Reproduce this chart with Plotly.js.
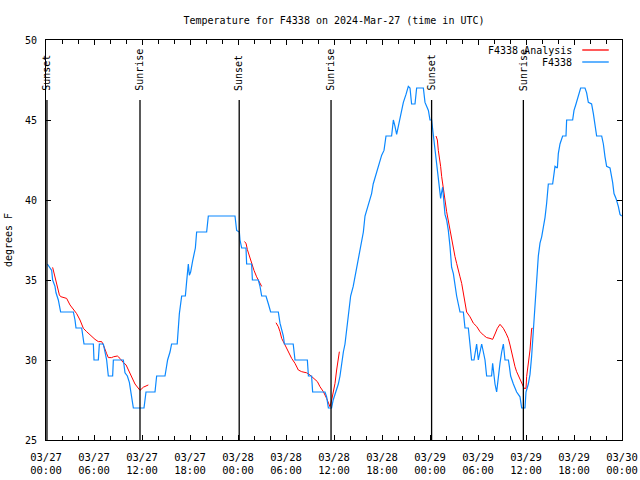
<!DOCTYPE html>
<html>
<head>
<meta charset="utf-8">
<script src="https://cdn.plot.ly/plotly-3.0.1.min.js"></script>
<style>html,body{margin:0;padding:0;background:#fff;}#chart{width:640px;height:480px;}</style>
</head>
<body>
<div id="chart"></div>
<script>
// Hours since 2024-03-27 00:00 UTC
const obsHours = [0.17,0.5,0.71,0.83,1.125,1.25,1.54,1.83,3.42,3.625,3.75,4.46,4.58,4.75,5.92,6.0,6.54,6.67,7.17,7.375,7.58,7.79,8.33,8.42,9.67,9.875,10.17,10.42,10.58,10.79,10.92,12.25,12.375,12.5,13.625,13.83,14.875,15.0,15.2,15.5,15.7,16.4,16.54,16.67,16.96,17.42,17.58,17.79,17.92,18.08,18.33,18.5,18.67,18.83,20.08,20.29,23.42,
  23.625,23.83,24.17,24.25,24.46,25.0,25.08,25.7,25.8,26.54,26.75,26.96,27.5,27.8,28.08,29.04,29.25,29.67,29.8,30.9,31.125,32.67,32.8,33.2,33.33,34.875,35.08,35.3,35.7,35.9,36.25,36.54,36.75,36.96,37.17,37.375,37.58,37.8,38.08,38.4,38.625,38.83,39.25,39.67,39.875,40.42,40.7,40.9,41.33,41.54,41.96,42.25,42.5,43.2,43.42,43.625,43.83,44.04,44.25,44.46,44.67,45.0,45.29,45.5,45.7,46.125,46.33,47.17,47.375,47.8,48.0,
  48.2,48.33,48.42,48.625,48.75,48.92,49.04,49.17,49.25,49.33,49.46,49.58,49.75,49.875,50.08,50.29,50.5,50.7,50.92,51.125,51.33,51.54,51.75,52.17,52.375,52.79,53.0,53.2,53.5,53.625,53.83,54.04,54.25,54.46,54.67,54.875,55.08,55.7,55.83,56.0,56.125,56.33,56.54,56.75,56.96,57.17,57.375,57.8,57.92,58.08,58.42,58.83,59.25,59.46,59.875,60.0,60.29,60.5,60.7,60.92,61.125,61.33,61.54,61.75,61.96,62.17,62.375,62.58,62.79,63.33,63.5,63.625,63.92,64.04,64.25,64.58,65.0,65.08,65.83,66.0,66.25,66.54,66.83,67.375,67.58,67.79,68.2,68.42,68.625,68.83,69.46,69.67,69.875,70.08,70.5,70.7,70.83,71.0,71.25,71.54,71.75,71.96];
const obsTemp = [36,35.8,35.6,35,34.6,34.2,33.75,33,33,32.5,32,32,31.6,31,31,30,30,31,31,30.5,30,29,29,30,30,29.2,29,28.6,28,27.5,27,27,27.5,28,28,29,29,29.5,30,30.5,31,31,32,32.9,34,34,34.9,36,35.3,35.5,36.2,36.6,37,38,38,39,39,
  39,38.1,38,37.5,37,37,36,36,35,35,34.6,34,34,33.5,33,33,32.3,31.5,31,31,30,30,29,29,28,28,27.7,27,27,27.5,28,28.5,29,29.8,30.5,31,32,32.7,34,34.6,35.2,36,37,38,39,40,40.4,41,41.7,42.1,42.8,43.1,44,44,45,44.6,44.1,44.6,45.1,45.6,46.1,46.6,47.1,47,46,46,47,47,46.1,45.6,45,
  45,44.4,44,43.3,42.7,41.9,41.3,40.8,40.4,40.1,40.5,40.8,39.8,39.1,38.75,38.1,37.1,35.8,35.4,34.6,34,33.5,33,33,32,32,31,30,30,30.4,31,30,30.5,31,30.5,30,29,29,29.8,29,28.5,28,29,29.8,30.5,31,30,30,29.6,29,28.5,28,27.7,27,27,28,28.5,29.1,30.2,31.9,33.5,35.2,36.5,37.3,37.7,38.3,38.9,39.8,41,41,41.7,42.1,42,42.9,43.5,44,44,45,45,45.6,46,46.5,47,47,46.7,46.1,46,45.4,44.6,44,44,43.5,42.7,42.1,42,41.5,41.1,40.4,40.1,39.6,39.1,39];

const anaHours = [0.83,1.125,1.42,1.67,1.83,2.58,3.0,3.42,3.83,4.25,4.67,5.08,5.5,6.125,6.54,6.96,7.17,7.375,7.58,7.79,8.21,8.42,8.92,9.25,9.67,10.0,10.29,10.71,11.125,11.75,12.17,12.79,
  null,24.79,25.0,25.17,25.42,25.7,26.0,26.33,26.67,26.96,
  null,28.75,29.04,29.25,29.46,29.875,30.29,30.71,31.125,31.54,31.96,32.58,33.0,33.42,33.92,34.25,34.67,35.08,35.5,35.71,35.92,36.125,36.33,36.54,36.67,
  null,48.75,48.92,49.04,49.17,49.33,49.46,49.58,49.75,49.875,50.08,50.29,50.5,50.71,50.92,51.125,51.33,51.54,51.75,51.96,52.17,52.375,52.58,53.0,53.42,53.83,54.25,54.67,55.08,55.5,55.83,56.125,56.42,56.75,57.17,57.5,57.79,58.0,58.21,58.42,58.625,58.83,59.25,59.58,59.75,60.0,60.08,60.29,60.5,60.71,60.83];
const anaTemp = [35.79,35.2,34.6,34.07,33.96,33.85,33.44,33.125,32.9,32.5,31.98,31.77,31.56,31.29,31.15,31.15,30.94,30.6,30.4,30.15,30.15,30.2,30.25,30.1,29.83,29.7,29.4,28.96,28.5,28.1,28.3,28.44,
  null,37.4,37.3,36.9,36.46,36.04,35.6,35.2,34.9,34.6,
  null,32.33,32.08,31.77,31.35,30.94,30.52,30.1,29.79,29.375,29.27,29.2,29.06,28.85,28.65,28.33,28.02,27.6,27.08,27.5,28.0,28.54,29.375,30.1,30.52,
  null,44.0,43.75,43.1,42.7,42.1,41.46,40.94,40.4,40.0,39.27,38.65,38.125,37.5,36.875,36.46,36.04,35.5,35.2,34.79,34.17,33.65,33.0,32.7,32.3,32.1,31.77,31.56,31.4,31.35,31.29,31.625,31.98,32.23,31.98,31.67,31.35,30.94,30.42,30.0,29.58,29.27,28.85,28.44,28.23,28.23,28.96,29.8,30.625,31.98,31.98];

const eventHours = [0.12, 11.75, 24.15, 35.63, 48.2, 59.67];
const eventLabels = ['Sunset','Sunrise','Sunset','Sunrise','Sunset','Sunrise'];

const tickHours = [0,6,12,18,24,30,36,42,48,54,60,66,72];
const tickLabels = ['03/27<br>00:00','03/27<br>06:00','03/27<br>12:00','03/27<br>18:00','03/28<br>00:00','03/28<br>06:00','03/28<br>12:00','03/28<br>18:00','03/29<br>00:00','03/29<br>06:00','03/29<br>12:00','03/29<br>18:00','03/30<br>00:00'];

const seriesNames = ['F4338 Analysis','F4338'];
const seriesColors = ['#ff0000','#0a88ff'];

const FONT = 'DejaVu Sans Mono, Liberation Mono, monospace';

const traces = [
  {x: anaHours, y: anaTemp, type: 'scatter', mode: 'lines', name: seriesNames[0],
   line: {color: seriesColors[0], width: 1}, connectgaps: false, hoverinfo: 'skip'},
  {x: obsHours, y: obsTemp, type: 'scatter', mode: 'lines', name: seriesNames[1],
   line: {color: seriesColors[1], width: 1.2}, hoverinfo: 'skip'}
];

const shapes = [];
const annotations = [];
eventHours.forEach((h, i) => {
  shapes.push({type: 'line', xref: 'x', yref: 'y', x0: h, x1: h, y0: 25, y1: 46.25,
    line: {color: '#000', width: 1.3}, layer: 'above'});
  annotations.push({xref: 'x', yref: 'y', x: h, y: 46.7, text: eventLabels[i], textangle: -90,
    showarrow: false, xanchor: 'center', yanchor: 'bottom', font: {family: FONT, size: 10, color: '#000'}});
});

// manual legend (text left of sample line, as in the reference)
const legY = [0.975, 0.945];
seriesNames.forEach((n, i) => {
  annotations.push({xref: 'paper', yref: 'paper', x: 0.917, y: legY[i], text: n, showarrow: false,
    xanchor: 'right', yanchor: 'middle', font: {family: FONT, size: 10, color: '#000'}});
  shapes.push({type: 'line', xref: 'paper', yref: 'paper', x0: 0.931, x1: 0.977, y0: legY[i], y1: legY[i],
    line: {color: seriesColors[i], width: 1.3}});
});

const layout = {
  width: 640, height: 480,
  margin: {l: 46, r: 18, t: 40, b: 40, pad: 0},
  paper_bgcolor: '#fff', plot_bgcolor: '#fff',
  showlegend: false,
  font: {family: FONT, size: 10, color: '#000'},
  title: {text: 'Temperature for F4338 on 2024-Mar-27 (time in UTC)', x: 0.5, xref: 'paper',
    y: 0.958, yref: 'container', yanchor: 'middle', font: {family: FONT, size: 10, color: '#000'}},
  xaxis: {range: [0, 72], tickmode: 'array', tickvals: tickHours, ticktext: tickLabels,
    ticks: 'inside', ticklen: 5, tickwidth: 1, tickcolor: '#000',
    minor: {dtick: 2, tick0: 0, ticks: 'inside', ticklen: 4, tickcolor: '#000', showgrid: false},
    showline: true, linecolor: '#000', linewidth: 1, mirror: 'allticks',
    showgrid: false, zeroline: false, automargin: false, fixedrange: true,
    tickfont: {family: FONT, size: 10.5, color: '#000'}, ticklabelstandoff: 7},
  yaxis: {range: [25, 50], tickmode: 'linear', tick0: 25, dtick: 5,
    ticks: 'inside', ticklen: 5, tickwidth: 1, tickcolor: '#000',
    showline: true, linecolor: '#000', linewidth: 1, mirror: 'allticks',
    showgrid: false, zeroline: false, automargin: false, fixedrange: true,
    tickfont: {family: FONT, size: 10, color: '#000'}, ticklabelstandoff: 6,
    title: {text: 'degrees F', standoff: 10, font: {family: FONT, size: 10, color: '#000'}}},
  shapes: shapes,
  annotations: annotations
};

Plotly.newPlot('chart', traces, layout, {staticPlot: true, displayModeBar: false});
</script>
</body>
</html>
